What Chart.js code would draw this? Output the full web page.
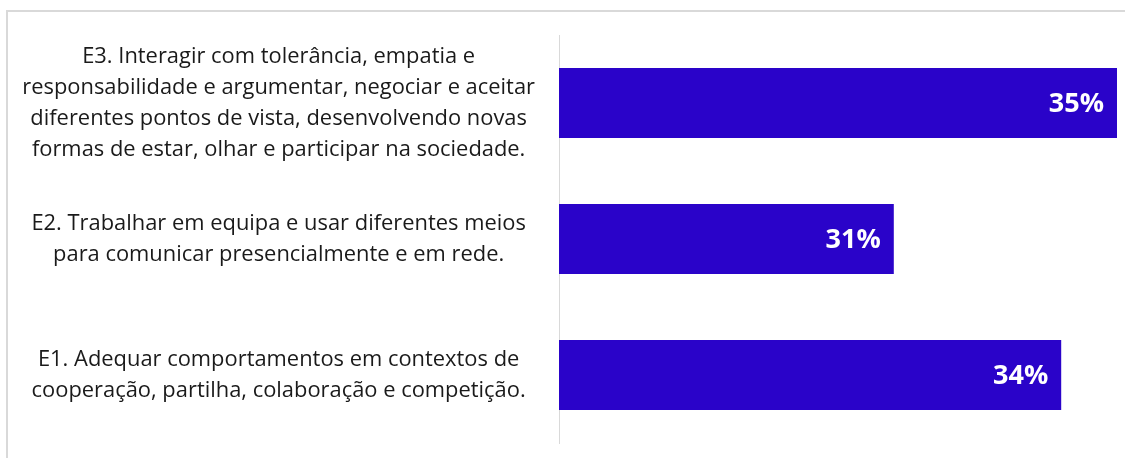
<!DOCTYPE html>
<html>
<head>
<meta charset="utf-8">
<script src="https://cdn.jsdelivr.net/npm/chart.js@4"></script>
<style>
  html, body { margin: 0; padding: 0; background: #fff; overflow: hidden; }
  #frame { position: absolute; left: 6px; top: 10px; width: 1140px; height: 470px; border: 2px solid #d9d9d9; }
  #graph { position: absolute; left: 0; top: 0; }
</style>
</head>
<body>
<div id="frame"></div>
<canvas id="graph" width="1125" height="458"></canvas>
<script>
// categories, top to bottom
const labels = [
    ['E3. Interagir com tolerância, empatia e',
     'responsabilidade e argumentar, negociar e aceitar',
     'diferentes pontos de vista, desenvolvendo novas',
     'formas de estar, olhar e participar na sociedade.'],
    ['E2. Trabalhar em equipa e usar diferentes meios',
     'para comunicar presencialmente e em rede.'],
    ['E1. Adequar comportamentos em contextos de',
     'cooperação, partilha, colaboração e competição.']
];
const values = [35, 31, 34];
const axisMin = 25;
const axisMax = 35;

const FONT = 'Open Sans';

// white % labels at the end of each bar
const barLabels = {
    id: 'barLabels',
    afterDatasetsDraw(chart) {
        const ctx = chart.ctx;
        const meta = chart.getDatasetMeta(0);
        ctx.save();
        ctx.fillStyle = '#ffffff';
        ctx.font = 'bold 27px ' + FONT;
        ctx.textAlign = 'right';
        ctx.textBaseline = 'middle';
        meta.data.forEach((bar, i) => {
            ctx.fillText(values[i] + '%', bar.x - 13, bar.y + 1);
        });
        ctx.restore();
    }
};

new Chart(document.getElementById('graph'), {
    type: 'bar',
    data: {
        labels: labels,
        datasets: [{
            data: values,
            backgroundColor: '#2a03c9',
            borderWidth: 0,
            barPercentage: 0.515,
            categoryPercentage: 1
        }]
    },
    options: {
        indexAxis: 'y',
        responsive: false,
        animation: false,
        layout: { padding: { top: 35, bottom: 15, right: 8, left: 0 } },
        plugins: { legend: { display: false }, tooltip: { enabled: false } },
        scales: {
            x: { display: false, min: axisMin, max: axisMax },
            y: {
                grid: { display: false, drawTicks: false },
                border: { display: true, color: '#d9d9d9', width: 1 },
                afterFit: s => {
                    s.width = 559;
                    s.paddingTop = 0;
                    s.paddingBottom = 0;
                },
                ticks: {
                    crossAlign: 'center',
                    padding: 24,
                    color: '#1a1a1a',
                    font: { family: FONT, size: 21.9, lineHeight: 31 / 21.9 }
                }
            }
        }
    },
    plugins: [barLabels]
});
</script>
</body>
</html>
